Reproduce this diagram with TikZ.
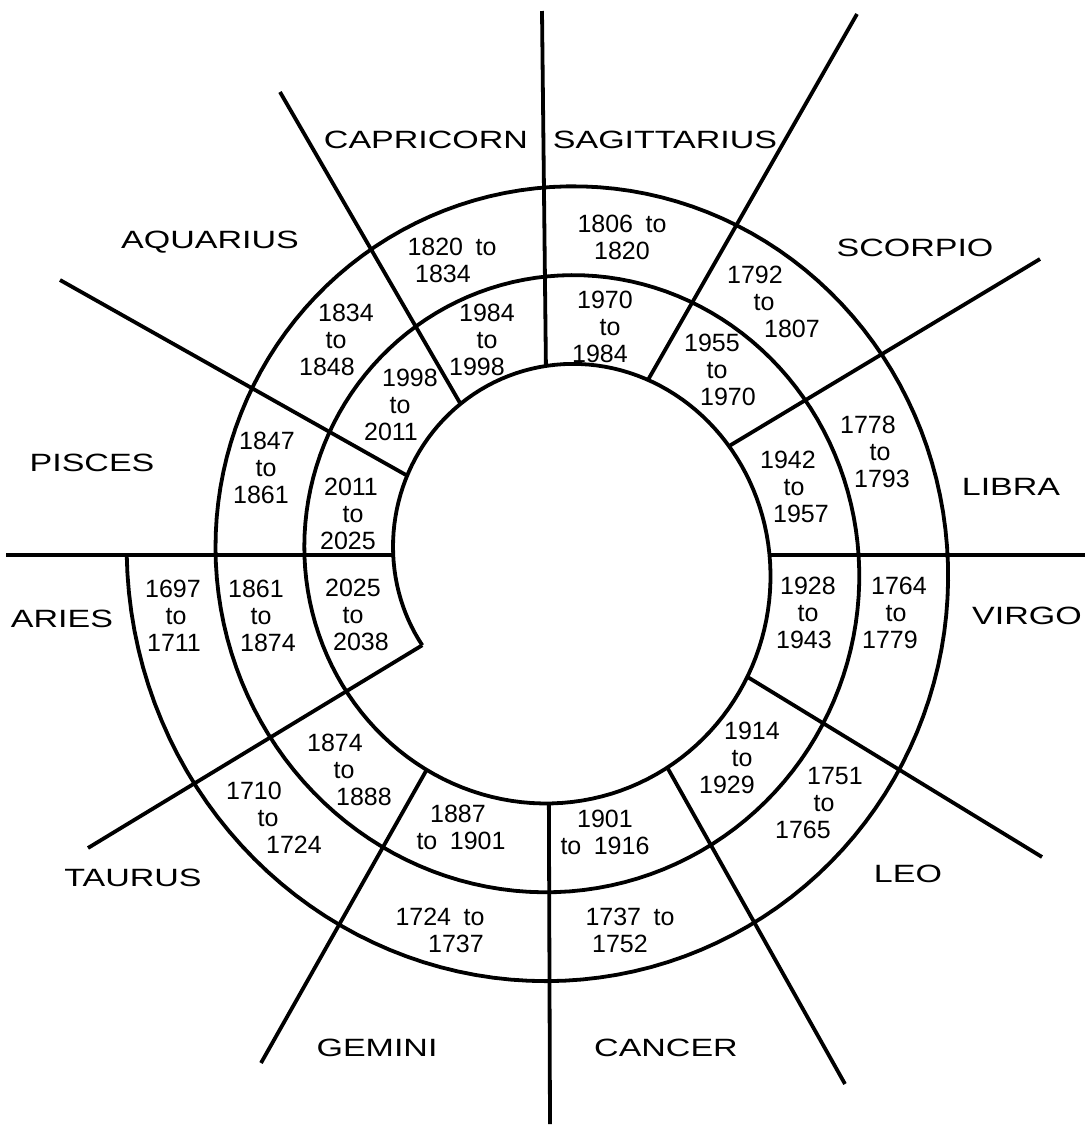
\documentclass[tikz,border=0pt]{standalone}
\usepackage{fontspec}
\setmainfont{Liberation Sans}
\usepackage{graphicx}
\usetikzlibrary{intersections}

% lettere dei segni un po' allargate, come scritte a mano
\newcommand{\largo}[1]{\scalebox{1.36}[1]{#1}}
% una riga spostata in orizzontale (1pt = 1px di spostamento)
\newcommand{\riga}[2]{\makebox[0pt]{\hspace*{#1}#2}}

\begin{document}
\begin{tikzpicture}[x=0.5pt, y=-0.5pt,
    linea/.style={line width=1.9pt},
    segno/.style={inner sep=0pt, font=\fontsize{12.5}{14}\selectfont},
    anni/.style={inner sep=0pt, align=center, font=\fontsize{12.5}{13.5}\selectfont}]

    % Riquadro fisso con le proporzioni dell'immagine (coordinate in pixel)
    \useasboundingbox (0,0) rectangle (1087,1131);

    % Spirale di Archimede: tre giri e 30 gradi, il raggio cala di circa 89 px a giro
    \draw[linea, name path=spirale] plot[domain=179.1:1290, samples=450, variable=\t]
        ({559.6+(477.2-0.247*\t)*cos(\t)}, {561.5-(486.1-0.247*\t)*sin(\t)});
    \coordinate (fine) at ({559.6+(477.2-0.247*1290)*cos(1290)}, {561.5-(486.1-0.247*1290)*sin(1290)});

    % Raggi tra i segni, dal bordo interno della spirale verso l'esterno
    \coordinate (centro) at (548,555);
    \foreach \ex/\ey in {1085/555, 1040/259, 857/14, 542/11, 280/92, 60/280,
                         6/555, 261/1063, 550/1124, 845/1084, 1042/857} {
        \path[name path=raggio] (centro) -- (\ex,\ey);
        \draw[linea, name intersections={of=spirale and raggio, sort by=raggio}]
            (intersection-1) -- (\ex,\ey);
    }
    % Il raggio tra Ariete e Toro chiude la spirale
    \draw[linea] (fine) -- (88,848);

    % Nomi dei segni
    \node[segno] (sagittario) at (665,140) {\largo{SAGITTARIUS}};
    \node[segno] (capricorno) at (426,140) {\largo{CAPRICORN}};
    \node[segno] (acquario) at (210,242) {\largo{AQUARIUS}};
    \node[segno] (pesci) at (92,463) {\largo{PISCES}};
    \node[segno] (ariete) at (62,619) {\largo{ARIES}};
    \node[segno] (toro) at (133,878) {\largo{TAURUS}};
    \node[segno] (gemelli) at (377,1048) {\largo{GEMINI}};
    \node[segno] (cancro) at (666,1048) {\largo{CANCER}};
    \node[segno] (leone) at (908,874) {\largo{LEO}};
    \node[segno] (vergine) at (1027,616) {\largo{VIRGO}};
    \node[segno] (bilancia) at (1011,487) {\largo{LIBRA}};
    \node[segno] (scorpione) at (915,248) {\largo{SCORPIO}};

    % Primo giro (esterno)
    \node[anni] (a1697) at (176,616) {\riga{-3pt}{1697}\\to\\\riga{-2pt}{1711}};
    \node[anni] (a1710) at (268,818) {\riga{-14pt}{1710}\\to\\\riga{26pt}{1724}};
    \node[anni] (a1724) at (448,930) {\riga{-8pt}{1724\enspace to}\\\riga{8pt}{1737}};
    \node[anni] (a1737) at (625,930) {\riga{5pt}{1737\enspace to}\\\riga{-5pt}{1752}};
    \node[anni] (a1751) at (824,803) {\riga{11pt}{1751}\\to\\\riga{-21pt}{1765}};
    \node[anni] (a1764) at (896,613) {\riga{3pt}{1764}\\to\\\riga{-6pt}{1779}};
    \node[anni] (a1778) at (880,452) {\riga{-12pt}{1778}\\to\\\riga{2pt}{1793}};
    \node[anni] (a1792) at (764,302) {\riga{-9pt}{1792}\\to\\\riga{28pt}{1807}};
    \node[anni] (a1806) at (622,237) {1806\enspace to\\1820};
    \node[anni] (a1820) at (448,260) {\riga{4pt}{1820\enspace to}\\\riga{-5pt}{1834}};
    \node[anni] (a1834) at (336,340) {\riga{10pt}{1834}\\to\\\riga{-9pt}{1848}};
    \node[anni] (a1847) at (266,468) {\riga{1pt}{1847}\\to\\\riga{-5pt}{1861}};

    % Secondo giro
    \node[anni] (a1861) at (261,616) {\riga{-5pt}{1861}\\to\\\riga{7pt}{1874}};
    \node[anni] (a1874) at (344,770) {\riga{-9pt}{1874}\\to\\\riga{20pt}{1888}};
    \node[anni] (a1887) at (460,827) {\riga{-2pt}{1887}\\\riga{1pt}{to\enspace 1901}};
    \node[anni] (a1901) at (605,832) {1901\\to\enspace 1916};
    \node[anni] (a1914) at (742,758) {\riga{10pt}{1914}\\to\\\riga{-15pt}{1929}};
    \node[anni] (a1928) at (808,613) {1928\\to\\\riga{-4pt}{1943}};
    \node[anni] (a1942) at (794,487) {\riga{-6pt}{1942}\\to\\\riga{7pt}{1957}};
    \node[anni] (a1955) at (717,370) {\riga{-5pt}{1955}\\to\\\riga{11pt}{1970}};
    \node[anni] (a1970) at (610,327) {\riga{-5pt}{1970}\\to\\\riga{-10pt}{1984}};
    \node[anni] (a1984) at (487,340) {1984\\to\\\riga{-10pt}{1998}};
    \node[anni] (a1998) at (400,405) {\riga{10pt}{1998}\\to\\\riga{-9pt}{2011}};
    \node[anni] (a2011) at (353,514) {\riga{-2pt}{2011}\\to\\\riga{-5pt}{2025}};

    % Ultimo tratto (interno)
    \node[anni] (a2025) at (353,615) {2025\\to\\\riga{8pt}{2038}};

\end{tikzpicture}
\end{document}
